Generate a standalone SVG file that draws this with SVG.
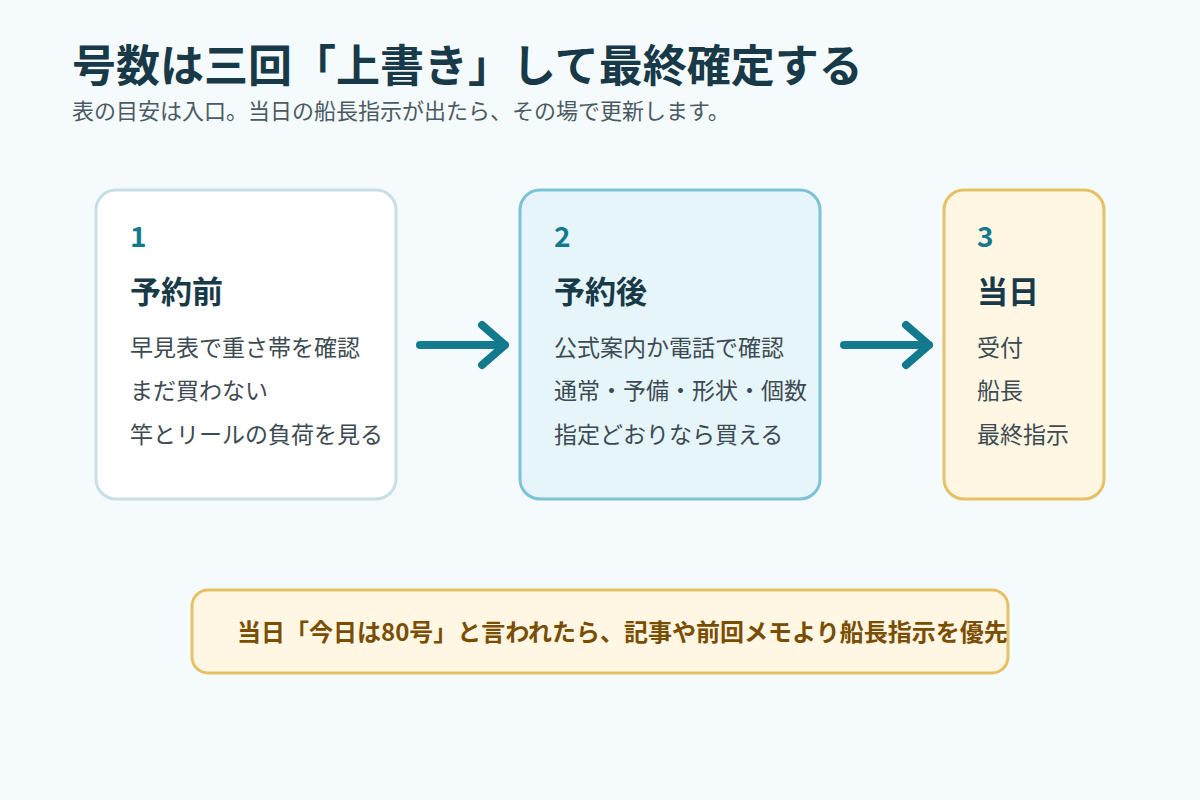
<svg xmlns="http://www.w3.org/2000/svg" width="1200" height="800" viewBox="0 0 1200 800">
<style>
text{font-family:"Noto Sans CJK JP","Noto Sans",sans-serif}
.t{font-size:44px;font-weight:700;fill:#183a48}
.s{font-size:22px;fill:#4a5a63}
.n{font-size:28px;font-weight:700;fill:#137a8d}
.h{font-size:31px;font-weight:700;fill:#183a48}
.b{font-size:23px;fill:#3c4a52}
.a{fill:none;stroke:#137a8d;stroke-width:8;stroke-linecap:round;stroke-linejoin:round}
</style>
<rect width="1200" height="800" fill="#f5fafc"/>
<text class="t" x="72" y="82">号数は三回「上書き」して最終確定する</text>
<text class="s" x="72" y="119">表の目安は入口。当日の船長指示が出たら、その場で更新します。</text>
<g id="n1"><rect x="96" y="190" width="300" height="309" rx="20" fill="#fff" stroke="#c7dfe6" stroke-width="3"/>
<text class="n" x="130" y="247">1</text><text class="h" x="130" y="303">予約前</text>
<text class="b" x="130" y="356">早見表で重さ帯を確認</text><text class="b" x="130" y="399">まだ買わない</text><text class="b" x="130" y="443">竿とリールの負荷を見る</text></g>
<g id="n2"><rect x="520" y="190" width="300" height="309" rx="20" fill="#e6f5fa" stroke="#7cc3d5" stroke-width="3"/>
<text class="n" x="554" y="247">2</text><text class="h" x="554" y="303">予約後</text>
<text class="b" x="554" y="356">公式案内か電話で確認</text><text class="b" x="554" y="399">通常・予備・形状・個数</text><text class="b" x="554" y="443">指定どおりなら買える</text></g>
<g id="n3"><rect x="944" y="190" width="160" height="309" rx="20" fill="#fff7e3" stroke="#e6c164" stroke-width="3"/>
<text class="n" x="977" y="247">3</text><text class="h" x="977" y="303">当日</text>
<text class="b" x="977" y="356">受付</text><text class="b" x="977" y="399">船長</text><text class="b" x="977" y="443">最終指示</text></g>
<g id="connectors">
<path class="a" d="M420 345H505M482 325L505 345L482 365"/>
<path class="a" d="M844 345H929M906 325L929 345L906 365"/>
</g>
<g id="note"><rect x="192" y="590" width="816" height="83" rx="16" fill="#fff7e3" stroke="#e6c164" stroke-width="3"/>
<text x="237" y="641" font-size="24" font-weight="700" fill="#7a4e00">当日「今日は80号」と言われたら、記事や前回メモより船長指示を優先</text></g>
</svg>
